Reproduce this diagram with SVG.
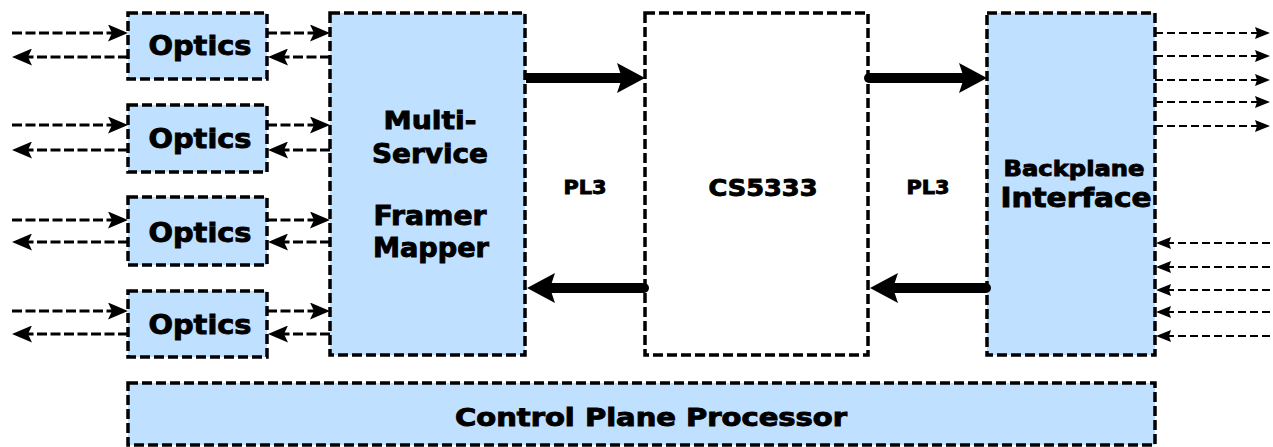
<svg xmlns="http://www.w3.org/2000/svg" width="1273" height="447" viewBox="0 0 1273 447">
<style>
.box{fill:#bfe0ff;stroke:#000;stroke-width:3.5;stroke-dasharray:10 4}
.wbox{fill:#fff;stroke:#000;stroke-width:3.5;stroke-dasharray:10 4}
.t{font-family:"DejaVu Sans","Verdana",sans-serif;font-weight:bold;fill:#000;stroke:#000;stroke-width:0.9;text-anchor:middle}
.la{stroke:#000;stroke-width:3.2;stroke-dasharray:10 3.5;fill:none}
.ra{stroke:#000;stroke-width:1.8;stroke-dasharray:8 4;fill:none}
.ta{stroke:#000;stroke-width:10;fill:none}
</style>
<defs>
<marker id="mL" markerUnits="userSpaceOnUse" viewBox="0 0 20 17" markerWidth="20" markerHeight="17" refX="10" refY="8.5" orient="auto"><path d="M0,0 L20,8.5 L0,17 L4,8.5 Z" fill="#000"/></marker>
<marker id="mR" markerUnits="userSpaceOnUse" viewBox="0 0 15 12" markerWidth="15" markerHeight="12" refX="8" refY="6" orient="auto"><path d="M0,0 L15,6 L0,12 L2,6 Z" fill="#000"/></marker>
<marker id="mT" markerUnits="userSpaceOnUse" viewBox="0 0 28 30" markerWidth="28" markerHeight="30" refX="10" refY="15" orient="auto"><path d="M0,0 L28,15 L0,30 L5,15 Z" fill="#000"/></marker>
</defs>

<g id="optics1"><rect class="box" x="128" y="13" width="139" height="66"/><text class="t" x="200" y="55" font-size="27" textLength="103" lengthAdjust="spacingAndGlyphs">Optics</text></g>
<g id="optics2"><rect class="box" x="128" y="105" width="139" height="67"/><text class="t" x="200" y="148" font-size="27" textLength="103" lengthAdjust="spacingAndGlyphs">Optics</text></g>
<g id="optics3"><rect class="box" x="128" y="197" width="139" height="68"/><text class="t" x="200" y="242" font-size="27" textLength="103" lengthAdjust="spacingAndGlyphs">Optics</text></g>
<g id="optics4"><rect class="box" x="128" y="291" width="139" height="66"/><text class="t" x="200" y="334" font-size="27" textLength="103" lengthAdjust="spacingAndGlyphs">Optics</text></g>

<g id="msfm"><rect class="box" x="330" y="13" width="195" height="342"/>
<text class="t" x="430" y="129" font-size="25" textLength="93" lengthAdjust="spacingAndGlyphs">Multi-</text>
<text class="t" x="430" y="163" font-size="26" textLength="116" lengthAdjust="spacingAndGlyphs">Service</text>
<text class="t" x="430" y="225" font-size="26" textLength="113" lengthAdjust="spacingAndGlyphs">Framer</text>
<text class="t" x="431" y="257" font-size="26" textLength="116" lengthAdjust="spacingAndGlyphs">Mapper</text>
</g>

<g id="cs5333"><rect class="wbox" x="645" y="13" width="223" height="342"/>
<text class="t" x="763" y="196" font-size="23" textLength="109" lengthAdjust="spacingAndGlyphs">CS5333</text></g>

<g id="backplane"><rect class="box" x="987" y="13" width="168" height="342"/>
<text class="t" x="1074" y="176" font-size="21" textLength="141" lengthAdjust="spacingAndGlyphs">Backplane</text>
<text class="t" x="1076" y="207" font-size="26" textLength="151" lengthAdjust="spacingAndGlyphs">Interface</text></g>

<g id="control"><rect class="box" x="128" y="383" width="1027" height="62"/>
<text class="t" x="651" y="426" font-size="24" textLength="392" lengthAdjust="spacingAndGlyphs">Control Plane Processor</text></g>

<g id="labels">
<text class="t" x="585" y="194" font-size="19" textLength="43" lengthAdjust="spacingAndGlyphs">PL3</text>
<text class="t" x="928" y="194" font-size="19" textLength="43" lengthAdjust="spacingAndGlyphs">PL3</text>
</g>

<g id="connectors">
<path class="la" d="M12,33 H118" marker-end="url(#mL)"/>
<path class="la" d="M128,57 H22" marker-end="url(#mL)"/>
<path class="la" d="M12,125 H118" marker-end="url(#mL)"/>
<path class="la" d="M128,150 H22" marker-end="url(#mL)"/>
<path class="la" d="M12,220 H118" marker-end="url(#mL)"/>
<path class="la" d="M128,242 H22" marker-end="url(#mL)"/>
<path class="la" d="M12,311 H118" marker-end="url(#mL)"/>
<path class="la" d="M128,334 H22" marker-end="url(#mL)"/>

<path class="la" d="M267,33 H320" marker-end="url(#mL)"/>
<path class="la" d="M330,57 H278" marker-end="url(#mL)"/>
<path class="la" d="M267,125 H320" marker-end="url(#mL)"/>
<path class="la" d="M330,150 H278" marker-end="url(#mL)"/>
<path class="la" d="M267,220 H320" marker-end="url(#mL)"/>
<path class="la" d="M330,242 H278" marker-end="url(#mL)"/>
<path class="la" d="M267,311 H320" marker-end="url(#mL)"/>
<path class="la" d="M330,334 H278" marker-end="url(#mL)"/>

<path class="ta" d="M526,78 H627" marker-end="url(#mT)" stroke-linecap="butt"/>
<path class="ta" d="M644,288 H545" marker-end="url(#mT)" stroke-linecap="round"/>
<path class="ta" d="M869,78 H969" marker-end="url(#mT)" stroke-linecap="round"/>
<path class="ta" d="M986,288 H888" marker-end="url(#mT)" stroke-linecap="round"/>

<path class="ra" d="M1155,33 H1263" marker-end="url(#mR)"/>
<path class="ra" d="M1155,56 H1263" marker-end="url(#mR)"/>
<path class="ra" d="M1155,80 H1263" marker-end="url(#mR)"/>
<path class="ra" d="M1155,102 H1263" marker-end="url(#mR)"/>
<path class="ra" d="M1155,126 H1263" marker-end="url(#mR)"/>
<path class="ra" d="M1270,243 H1163" marker-end="url(#mR)"/>
<path class="ra" d="M1270,267 H1163" marker-end="url(#mR)"/>
<path class="ra" d="M1270,290 H1163" marker-end="url(#mR)"/>
<path class="ra" d="M1270,312 H1163" marker-end="url(#mR)"/>
<path class="ra" d="M1270,336 H1163" marker-end="url(#mR)"/>
</g>
</svg>
